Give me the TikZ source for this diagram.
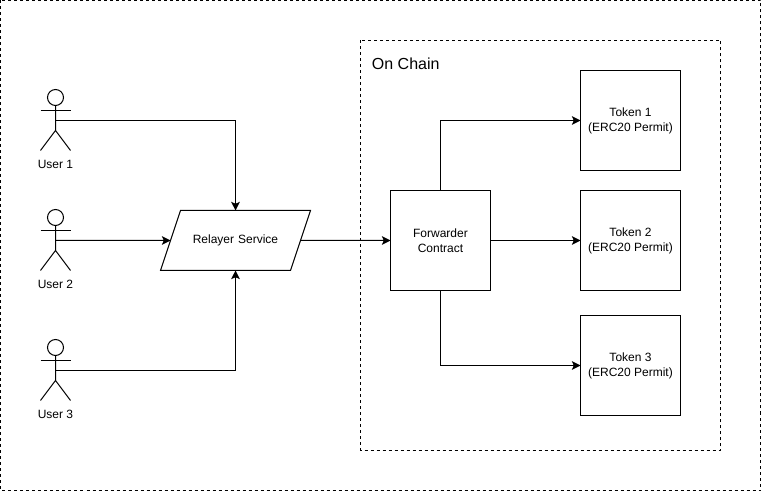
\documentclass[tikz,border=0pt]{standalone}
\usepackage{fontspec}
\setmainfont{Liberation Sans}
\usetikzlibrary{shapes.geometric,arrows.meta,positioning}

\begin{document}
\begin{tikzpicture}[x=.75pt,y=-.75pt,line width=.75pt,
    every node/.style={font=\fontsize{9}{11.25}\selectfont},
    block/.style={minimum size=75pt,inner sep=0pt,outer sep=0pt,draw,rectangle,align=center},
    relayerbox/.style={trapezium,trapezium left angle=71.57,trapezium right angle=-71.57,
        text width=70pt,align=center,text height=6.5pt,text depth=2pt,
        inner xsep=6.25pt,inner ysep=18.25pt,outer sep=0pt,draw},
    boundary/.style={draw,dash pattern=on 2.25pt off 2.25pt},
    link/.style={draw,-{Stealth[length=6.5pt,width=6.5pt,inset=1.5pt]}},
    actor/.pic={
        \draw (0,-23) circle (6pt);
        \draw (-15,-10) -- (15,-10);
        \draw (0,-15) -- (0,10) -- (-15,30) (0,10) -- (15,30);
        \coordinate (-waist) at (0,0);
        \node (-label) at (0,43.5) {#1};
    }]

        \useasboundingbox (0,0) rectangle (761,491);

        \draw [boundary] (.5,.5) rectangle (760.5,490.5);
        \draw [boundary] (360.5,40.5) rectangle (720.5,450.5);
        \node [anchor=west,font=\fontsize{12}{14}\selectfont] (title) at (367,64) {On Chain};

        \pic (user1) at (55.5,120.5) {actor={User 1}};
        \pic (user2) at (55.5,240.5) {actor={User 2}};
        \pic (user3) at (55.5,370.5) {actor={User 3}};

        \node [relayerbox] (relayer) at (235.5,240.5) {Relayer Service};
        \node [block] (forwarder) at (440.5,240.5) {Forwarder\\Contract};
        \node [block, right = 67.5pt of forwarder] (token2) {Token 2\\(ERC20 Permit)};
        \node [block, above = 15pt of token2] (token1) {Token 1\\(ERC20 Permit)};
        \node [block, below = 18.75pt of token2] (token3) {Token 3\\(ERC20 Permit)};

        \draw [link] (user1-waist) -| (relayer.north);
        \draw [link] (user2-waist) -- (relayer.west);
        \draw [link] (user3-waist) -| (relayer.south);
        \draw [link] (relayer.east) -- (forwarder.west);
        \draw [link] (forwarder.north) |- (token1.west);
        \draw [link] (forwarder.east) -- (token2.west);
        \draw [link] (forwarder.south) |- (token3.west);
\end{tikzpicture}
\end{document}
